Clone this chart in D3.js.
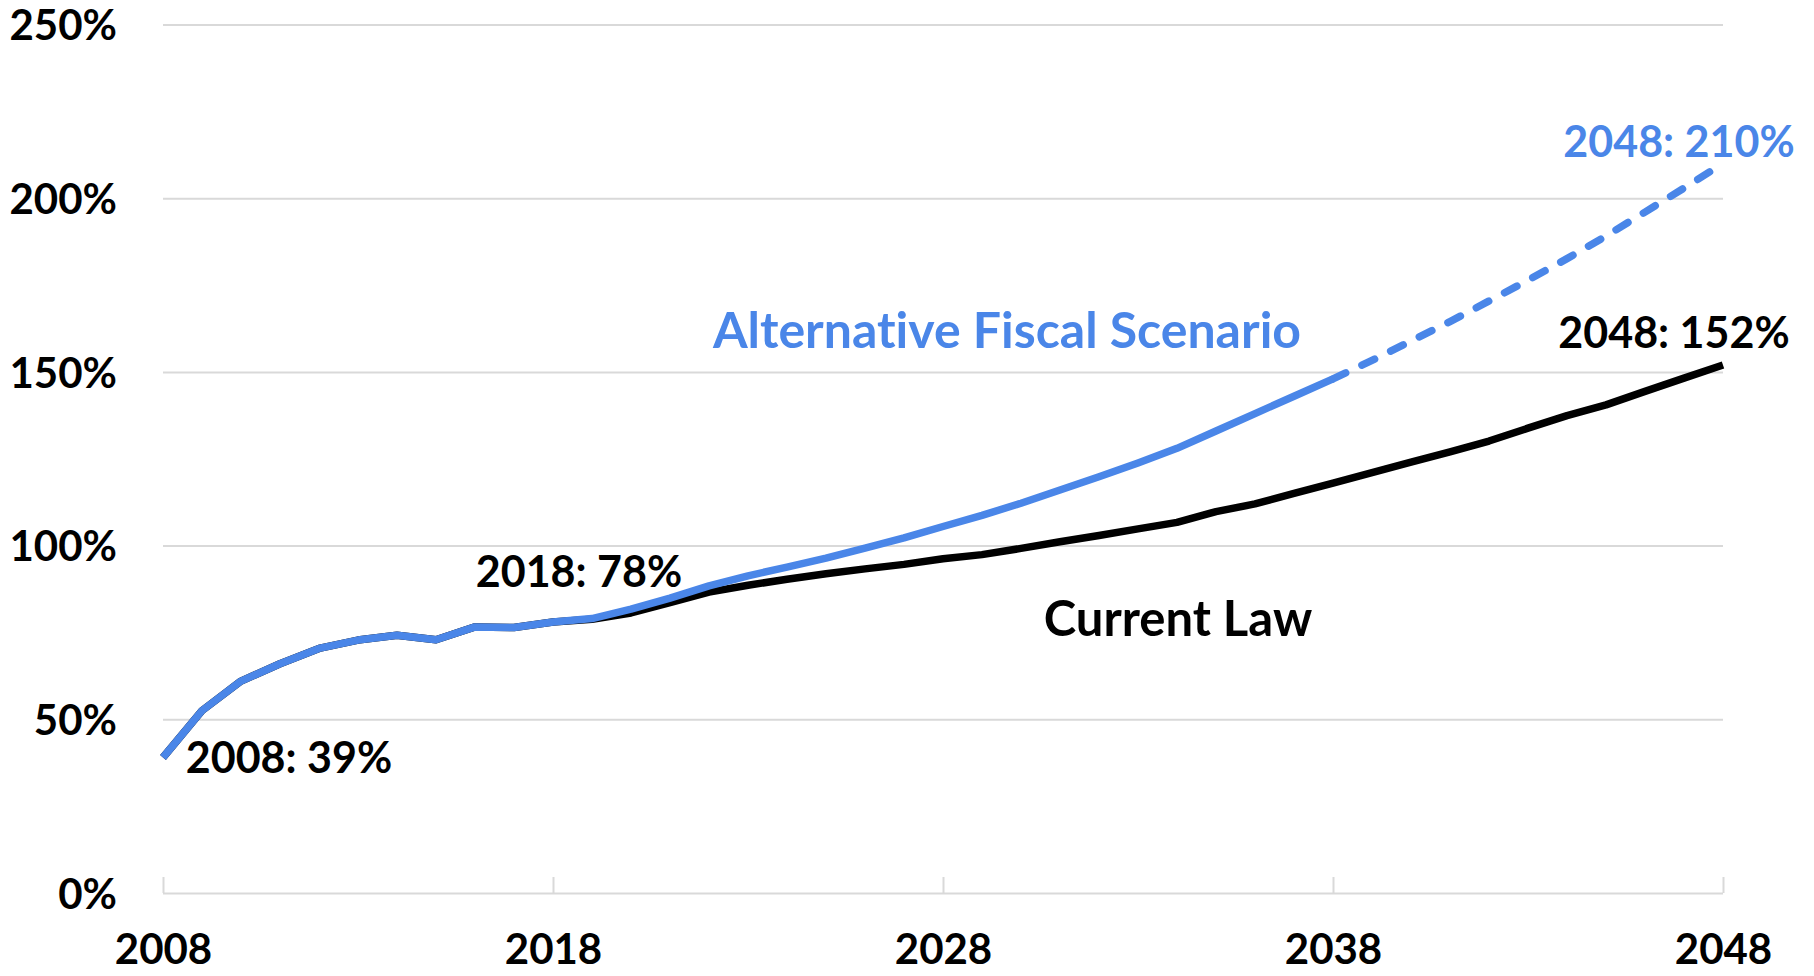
<!DOCTYPE html>
<html>
<head>
<meta charset="utf-8">
<script src="https://cdn.jsdelivr.net/npm/d3@7"></script>
<style>
  html, body { margin: 0; padding: 0; background: #fff; }
  svg { display: block; }
  text { font-family: Lato, "Open Sans", sans-serif; font-weight: 700; font-variant-ligatures: none; font-feature-settings: "liga" 0, "clig" 0; }
</style>
</head>
<body>
<svg id="chart" width="1814" height="976"></svg>
<script>
// ---- Data (debt held by the public, % of GDP) ----
const histYears = [2008, 2009, 2010, 2011, 2012, 2013, 2014, 2015, 2016, 2017, 2018];
const histValues = [39, 52.5, 61, 66, 70.4, 72.8, 74.2, 72.9, 76.6, 76.4, 78];

const projYears = [2019, 2020, 2021, 2022, 2023, 2024, 2025, 2026, 2027, 2028,
                   2029, 2030, 2031, 2032, 2033, 2034, 2035, 2036, 2037, 2038,
                   2039, 2040, 2041, 2042, 2043, 2044, 2045, 2046, 2047, 2048];
const currentLaw = [78.8, 80.6, 83.6, 86.6, 88.6, 90.3, 91.9, 93.3, 94.6, 96.2,
                    97.4, 99.2, 101.1, 102.9, 104.8, 106.7, 109.8, 112.0, 115.0, 118.0,
                    121.0, 124.0, 127.0, 130.1, 133.8, 137.4, 140.5, 144.4, 148.2, 152];
const altFiscal = [79.0, 81.7, 84.9, 88.4, 91.3, 93.8, 96.4, 99.3, 102.2, 105.5,
                   108.7, 112.2, 116.0, 119.8, 123.8, 128.0, 133.0, 138.0, 143.0, 148.0,
                   153.3, 158.9, 164.5, 170.4, 176.4, 182.6, 189.1, 196.0, 202.9, 210];
const solidEndYear = 2038;

const xTicks = [2008, 2018, 2028, 2038, 2048];
const yTicks = [0, 50, 100, 150, 200, 250];

const labels = [
  { text: "2008: 39%", color: "#000" },
  { text: "2018: 78%", color: "#000" },
  { text: "Alternative Fiscal Scenario", color: "#4a86e8" },
  { text: "Current Law", color: "#000" },
  { text: "2048: 210%", color: "#4a86e8" },
  { text: "2048: 152%", color: "#000" }
];

// ---- Layout ----
const svg = d3.select("#chart");
const mLeft = 163, mRight = 1723, mTop = 24.5, mBottom = 893;
const BLUE = "#4a86e8";
const GRID = "#d9d9d9";

const x = d3.scaleLinear().domain([2008, 2048]).range([mLeft, mRight]);
const y = d3.scaleLinear().domain([0, 250]).range([mBottom, mTop]);

const hist = histYears.map((yr, i) => ({ year: yr, v: histValues[i] }));
const cl = hist.concat(projYears.map((yr, i) => ({ year: yr, v: currentLaw[i] })));
const afs = hist.concat(projYears.map((yr, i) => ({ year: yr, v: altFiscal[i] })));

// Gridlines + y labels
const yAxis = d3.axisLeft(y)
  .tickValues(yTicks)
  .tickSize(-(mRight - mLeft))
  .tickPadding(46)
  .tickFormat(d => d + "%");
const gy = svg.append("g").attr("transform", `translate(${mLeft},0)`).call(yAxis);
gy.select(".domain").remove();
gy.selectAll(".tick line").attr("stroke", GRID).attr("stroke-width", 2);
gy.selectAll(".tick text")
  .attr("fill", "#000")
  .attr("font-size", 42)
  .attr("dy", "0.36em")
  .attr("x", 117 - mLeft)
  .style("font-family", "Lato, 'Open Sans', sans-serif")
  .style("font-weight", 700);

// X axis ticks (upward) and labels
const xTickAxis = d3.axisTop(x).tickValues(xTicks).tickSize(16).tickFormat("");
const gxt = svg.append("g").attr("transform", `translate(0,${mBottom})`).call(xTickAxis);
gxt.select(".domain").remove();
gxt.selectAll(".tick line").attr("stroke", GRID).attr("stroke-width", 2);

const xAxis = d3.axisBottom(x).tickValues(xTicks).tickSize(0).tickPadding(48).tickFormat(d3.format("d"));
const gx = svg.append("g").attr("transform", `translate(0,${mBottom})`).call(xAxis);
gx.select(".domain").remove();
gx.selectAll(".tick text")
  .attr("fill", "#000")
  .attr("font-size", 42)
  .attr("dy", "0.55em")
  .style("font-family", "Lato, 'Open Sans', sans-serif")
  .style("font-weight", 700);

// Lines
const line = d3.line().x(d => x(d.year)).y(d => y(d.v));

svg.append("path")
  .datum(cl)
  .attr("d", line)
  .attr("fill", "none")
  .attr("stroke", "#000")
  .attr("stroke-width", 7.5)
  .attr("stroke-linejoin", "round");

svg.append("path")
  .datum(afs.filter(d => d.year <= solidEndYear))
  .attr("d", line)
  .attr("fill", "none")
  .attr("stroke", BLUE)
  .attr("stroke-width", 7.5)
  .attr("stroke-linejoin", "round");

svg.append("path")
  .datum(afs.filter(d => d.year >= solidEndYear))
  .attr("d", line)
  .attr("fill", "none")
  .attr("stroke", BLUE)
  .attr("stroke-width", 7.5)
  .attr("stroke-linejoin", "round")
  .attr("stroke-linecap", "round")
  .attr("stroke-dasharray", "14 18");

// Annotations
const pos = [
  { x: 289, y: 773, size: 43 },
  { x: 579, y: 587, size: 43 },
  { x: 1007, y: 348, size: 50 },
  { x: 1178, y: 636, size: 49 },
  { x: 1679, y: 157, size: 43 },
  { x: 1674, y: 348, size: 43 }
];
svg.append("g").selectAll("text")
  .data(labels)
  .join("text")
  .attr("x", (d, i) => pos[i].x)
  .attr("y", (d, i) => pos[i].y)
  .attr("text-anchor", "middle")
  .attr("font-size", (d, i) => pos[i].size)
  .attr("fill", d => d.color)
  .text(d => d.text);
</script>
</body>
</html>
